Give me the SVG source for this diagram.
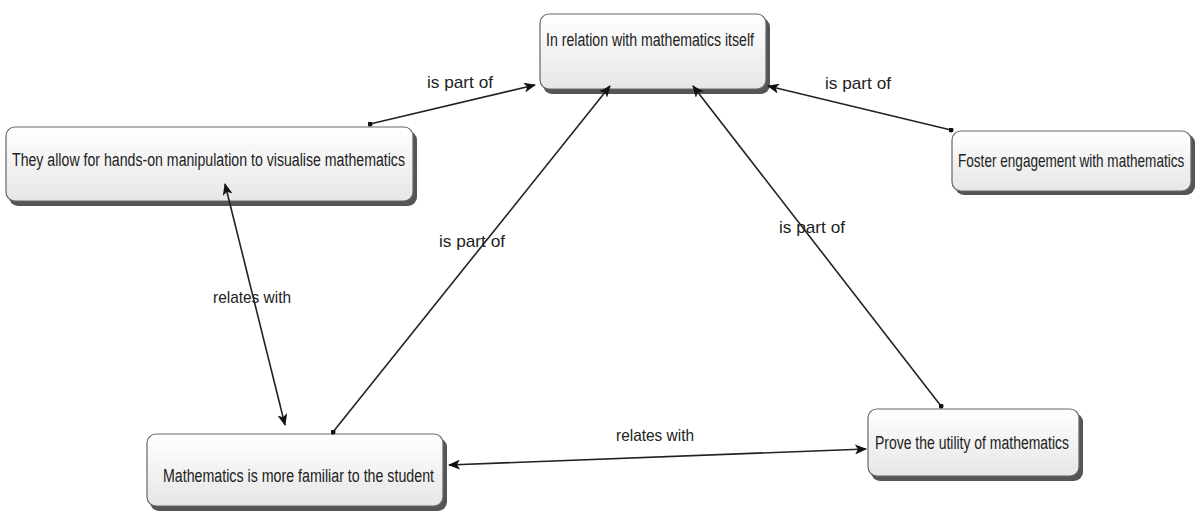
<svg xmlns="http://www.w3.org/2000/svg" width="1198" height="512" viewBox="0 0 1198 512">
<defs>
<linearGradient id="g" x1="0" y1="0" x2="0" y2="1">
<stop offset="0" stop-color="#ffffff"/>
<stop offset="1" stop-color="#e6e6e6"/>
</linearGradient>
<marker id="arr" viewBox="0 0 12 10" refX="11" refY="5" markerWidth="12" markerHeight="10" markerUnits="userSpaceOnUse" orient="auto-start-reverse">
<path d="M0,0 L12,5 L0,10 L3,5 z" fill="#111"/>
</marker>
<marker id="dot" viewBox="0 0 6 6" refX="3" refY="3" markerWidth="5" markerHeight="5" markerUnits="userSpaceOnUse">
<circle cx="3" cy="3" r="3" fill="#111"/>
</marker>
</defs>
<style>
.shadow{fill:#555;}
.box{fill:url(#g);stroke:#666;stroke-width:1.2;}
.t{font-family:"Liberation Sans",Arial,sans-serif;font-size:18px;fill:#222;}
.lbl{font-family:"Liberation Sans",Arial,sans-serif;font-size:17px;fill:#222;}
.c{stroke:#222;stroke-width:1.6;fill:none;}
</style>
<rect width="1198" height="512" fill="#fff"/>
<g id="n1">
<rect class="shadow" x="543" y="18" width="227" height="76" rx="9"/>
<rect class="box" x="540" y="14" width="226" height="75" rx="9"/>
<text class="t" x="546" y="46" textLength="208" lengthAdjust="spacingAndGlyphs">In relation with mathematics itself</text>
</g>
<g id="n2">
<rect class="shadow" x="9" y="131" width="408" height="75" rx="9"/>
<rect class="box" x="6" y="127" width="407" height="74" rx="9"/>
<text class="t" x="12" y="166" textLength="393" lengthAdjust="spacingAndGlyphs">They allow for hands-on manipulation to visualise mathematics</text>
</g>
<g id="n3">
<rect class="shadow" x="955" y="134" width="240" height="61" rx="9"/>
<rect class="box" x="952" y="131" width="239" height="60" rx="9"/>
<text class="t" transform="translate(958,167) scale(0.73,1)" x="0" y="0" textLength="310" lengthAdjust="spacingAndGlyphs">Foster engagement with mathematics</text>
</g>
<g id="n4">
<rect class="shadow" x="150" y="438" width="297" height="73" rx="9"/>
<rect class="box" x="147" y="434" width="296" height="72" rx="9"/>
<text class="t" x="163" y="482" textLength="271" lengthAdjust="spacingAndGlyphs">Mathematics  is more familiar to the student</text>
</g>
<g id="n5">
<rect class="shadow" x="871" y="413" width="212" height="68" rx="9"/>
<rect class="box" x="868" y="409" width="211" height="67" rx="9"/>
<text class="t" x="875" y="449" textLength="194" lengthAdjust="spacingAndGlyphs">Prove the utility of mathematics</text>
</g>
<g id="connectors">
<line class="c" x1="370" y1="124" x2="535" y2="85" marker-start="url(#dot)" marker-end="url(#arr)"/>
<line class="c" x1="951" y1="130" x2="768" y2="86" marker-start="url(#dot)" marker-end="url(#arr)"/>
<line class="c" x1="333" y1="432" x2="610" y2="86" marker-start="url(#dot)" marker-end="url(#arr)"/>
<line class="c" x1="941" y1="406" x2="693" y2="86" marker-start="url(#dot)" marker-end="url(#arr)"/>
<line class="c" x1="225" y1="184" x2="285" y2="425" marker-start="url(#arr)" marker-end="url(#arr)"/>
<line class="c" x1="449" y1="465" x2="866" y2="449" marker-start="url(#arr)" marker-end="url(#arr)"/>
<text class="lbl" x="460" y="88" text-anchor="middle" textLength="66" lengthAdjust="spacingAndGlyphs">is part of</text>
<text class="lbl" x="858" y="89" text-anchor="middle" textLength="66" lengthAdjust="spacingAndGlyphs">is part of</text>
<text class="lbl" x="472" y="247" text-anchor="middle" textLength="66" lengthAdjust="spacingAndGlyphs">is part of</text>
<text class="lbl" x="812" y="233" text-anchor="middle" textLength="66" lengthAdjust="spacingAndGlyphs">is part of</text>
<text class="lbl" x="252" y="303" text-anchor="middle" textLength="78" lengthAdjust="spacingAndGlyphs">relates with</text>
<text class="lbl" x="655" y="441" text-anchor="middle" textLength="78" lengthAdjust="spacingAndGlyphs">relates with</text>
</g>
</svg>
